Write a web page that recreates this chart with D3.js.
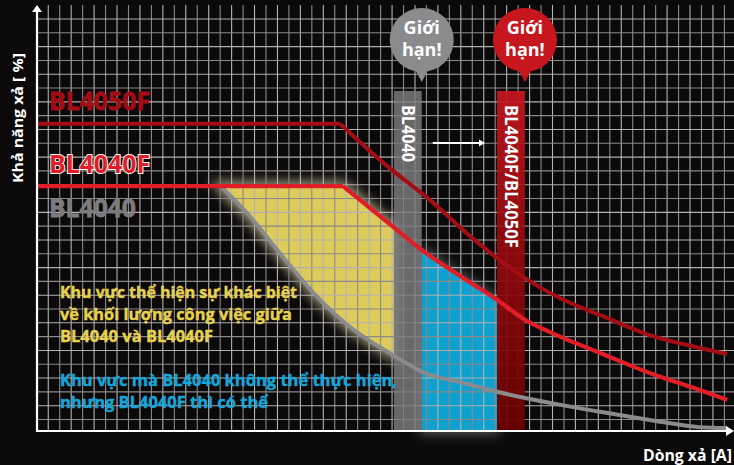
<!DOCTYPE html>
<html>
<head>
<meta charset="utf-8">
<script src="https://cdn.jsdelivr.net/npm/d3@7"></script>
<style>
  html, body { margin: 0; background: #0b0909; }
  svg { display: block; }
</style>
</head>
<body>
<svg id="chart" width="734" height="465"></svg>
<script>
// current (% of range) vs discharge capacity (%)
const bl4050fX = [0, 43.5, 50.6, 56.4, 62.1, 66.4, 70.0, 75.0, 80.8, 87.9, 95.1, 99.0];
const bl4050fY = [72.1, 72.1, 61.7, 54.2, 45.8, 40.1, 35.9, 31.2, 27.2, 22.5, 19.5, 18.1];

const bl4040fX = [0, 43.9, 51.1, 55.2, 60.7, 66.0, 70.0, 73.6, 80.8, 87.9, 95.1, 99.0];
const bl4040fY = [57.5, 57.5, 47.9, 42.5, 36.4, 30.8, 26.1, 23.2, 18.3, 13.6, 9.6, 7.3];

const bl4040X = [0, 26.3, 30.1, 35.3, 40.2, 44.9, 51.1, 55.4, 61.1, 66.0, 73.6, 80.8, 87.9, 95.1, 99.0];
const bl4040Y = [57.5, 57.5, 51.2, 40.8, 31.5, 24.4, 17.8, 13.8, 11.3, 9.2, 6.6, 4.5, 2.6, 0.9, 0.7];

// limit bands (current range)
const limitBL4040 = [51.2, 55.2];
const limitBL4040F = [66.0, 70.0];

const seriesNames = ['BL4050F', 'BL4040F', 'BL4040'];
const yellowNote = ['Khu vực thể hiện sự khác biệt', 'về khối lượng công việc giữa', 'BL4040 và BL4040F'];
const blueNote = ['Khu vực mà BL4040 không thể thực hiện,', 'nhưng BL4040F thì có thể'];
const bubbleText = ['Giới', 'hạn!'];

const svg = d3.select('#chart');
const W = 734, H = 465;
const plotLeft = 37, plotBottom = 431, plotTop = 5;

const x = d3.scaleLinear().domain([0, 100]).range([plotLeft, W]);
const y = d3.scaleLinear().domain([0, 100]).range([plotBottom, plotTop]);

const FONT = "'Liberation Sans Narrow', 'Open Sans', sans-serif";

function interp(xs, ys, v) {
    for (let i = 1; i < xs.length; i++) {
        if (v <= xs[i]) {
            const t = (v - xs[i - 1]) / (xs[i] - xs[i - 1]);
            return ys[i - 1] + t * (ys[i] - ys[i - 1]);
        }
    }
    return ys[ys.length - 1];
}
function zip(xs, ys) { return xs.map((v, i) => [v, ys[i]]); }
function segment(xs, ys, a, b) {
    return [[a, interp(xs, ys, a)]]
        .concat(zip(xs, ys).filter(d => d[0] > a && d[0] < b))
        .concat([[b, interp(xs, ys, b)]]);
}

const defs = svg.append('defs');
defs.append('filter').attr('id', 'glow')
    .attr('x', '-20%').attr('y', '-20%').attr('width', '140%').attr('height', '140%')
    .append('feGaussianBlur').attr('stdDeviation', 6);
const rg = defs.append('linearGradient').attr('id', 'redbar')
    .attr('x1', 0).attr('y1', 0).attr('x2', 0).attr('y2', 1);
rg.append('stop').attr('offset', '0%').attr('stop-color', '#c8161e');
rg.append('stop').attr('offset', '45%').attr('stop-color', '#96090f');
rg.append('stop').attr('offset', '100%').attr('stop-color', '#6a0000');

svg.append('rect').attr('width', W).attr('height', H).attr('fill', '#0b0909');

// zones
const yStart = bl4040X[1], yEnd = limitBL4040[0];
const yellowTop = segment(bl4040fX, bl4040fY, yStart, yEnd);
const yellowBot = segment(bl4040X, bl4040Y, yStart, yEnd).reverse();
const bStart = limitBL4040[1], bEnd = limitBL4040F[0];
const blueTop = segment(bl4040fX, bl4040fY, bStart, bEnd);

const poly = d3.line().x(d => x(d[0])).y(d => y(d[1]));

// soft glow behind the zones
svg.append('path').attr('d', poly(yellowTop.concat(yellowBot)) + 'Z')
    .attr('fill', '#fff6c4').attr('stroke', '#fff6c4').attr('stroke-width', 10)
    .attr('opacity', 0.6).attr('filter', 'url(#glow)');
svg.append('path').attr('d', poly(blueTop.concat([[bEnd, 0], [bStart, 0]])) + 'Z')
    .attr('fill', '#e8f6ff').attr('stroke', '#e8f6ff').attr('stroke-width', 6)
    .attr('opacity', 0.35).attr('filter', 'url(#glow)');

svg.append('path').attr('d', poly(yellowTop.concat(yellowBot)) + 'Z').attr('fill', '#ddcb5c');
svg.append('path').attr('d', poly(blueTop.concat([[bEnd, 0], [bStart, 0]])) + 'Z').attr('fill', '#0ea0cf');

// grid
const gx = d3.range(1, 61).map(i => plotLeft + i * 11.46 - 0.2);
const gy = d3.range(0, 30).map(i => 19 + i * 13.81);
const grid = svg.append('g');
grid.selectAll('line.v').data(gx).join('line')
    .attr('x1', d => d).attr('x2', d => d).attr('y1', plotTop).attr('y2', plotBottom)
    .attr('stroke', (d, i) => i % 2 ? '#8a8a8a' : '#b4b4b4').attr('stroke-width', 1.1);
grid.selectAll('line.h').data(gy).join('line')
    .attr('x1', plotLeft).attr('x2', W).attr('y1', d => d).attr('y2', d => d)
    .attr('stroke', (d, i) => i % 2 ? '#8a8a8a' : '#b0b0b0').attr('stroke-width', 1.1);

// limit bars
svg.append('rect')
    .attr('x', x(limitBL4040[0])).attr('width', x(limitBL4040[1]) - x(limitBL4040[0]))
    .attr('y', 91).attr('height', plotBottom - 91)
    .attr('fill', '#7d7d80').attr('opacity', 0.82);
svg.append('rect')
    .attr('x', x(limitBL4040F[0])).attr('width', x(limitBL4040F[1]) - x(limitBL4040F[0]))
    .attr('y', 91).attr('height', plotBottom - 91)
    .attr('fill', 'url(#redbar)').attr('opacity', 0.92);

// curves: flat part straight, falling part smooth
const flat = d3.line().x(d => x(d[0])).y(d => y(d[1]));
const smooth = d3.line().x(d => x(d[0])).y(d => y(d[1])).curve(d3.curveMonotoneX);
function curvePath(xs, ys) {
    const pts = zip(xs, ys);
    return flat(pts.slice(0, 2)) + smooth(pts.slice(1));
}
[[bl4040X, bl4040Y, '#8b8b8d', 4], [bl4050fX, bl4050fY, '#a50d15', 4], [bl4040fX, bl4040fY, '#e11d27', 4.2]]
    .forEach(([xs, ys, col, w]) => {
        svg.append('path').attr('d', curvePath(xs, ys))
            .attr('fill', 'none').attr('stroke', col).attr('stroke-width', w)
            .attr('stroke-linejoin', 'round');
    });

// axes
svg.append('line').attr('x1', plotLeft).attr('x2', plotLeft).attr('y1', plotBottom + 1).attr('y2', 10)
    .attr('stroke', '#fff').attr('stroke-width', 2.2);
svg.append('path').attr('d', `M${plotLeft - 5},12 L${plotLeft},5 L${plotLeft + 5},12 Z`).attr('fill', '#fff');
svg.append('line').attr('x1', plotLeft - 1).attr('x2', W - 6).attr('y1', plotBottom).attr('y2', plotBottom)
    .attr('stroke', '#fff').attr('stroke-width', 2.2);
svg.append('path').attr('d', `M${W - 8},${plotBottom - 5} L${W},${plotBottom} L${W - 8},${plotBottom + 5} Z`).attr('fill', '#fff');

// series labels
const labelCfg = [
    {fill: '#a20d15', y: 110, w: 101},
    {fill: '#e11d27', y: 173, w: 101, stroke: '#fff'},
    {fill: '#7c7c7e', y: 217, w: 87}
];
seriesNames.forEach((s, i) => {
    const c = labelCfg[i];
    const t = svg.append('text').attr('x', 49).attr('y', c.y).text(s)
        .attr('font-family', FONT).attr('font-weight', 'bold').attr('font-size', 25)
        .attr('textLength', c.w).attr('lengthAdjust', 'spacingAndGlyphs')
        .attr('fill', c.fill)
        .attr('stroke', c.stroke || c.fill).attr('stroke-width', c.stroke ? 1.8 : 0.8)
        .attr('paint-order', 'stroke');
});

// notes
const noteW1 = [237, 232, 153];
yellowNote.forEach((s, i) => {
    svg.append('text').attr('x', 60).attr('y', 298 + i * 22).text(s)
        .attr('font-family', FONT).attr('font-weight', 'bold').attr('font-size', 16.5)
        .attr('textLength', noteW1[i]).attr('lengthAdjust', 'spacingAndGlyphs')
        .attr('fill', '#e6d24e').attr('stroke', '#e6d24e').attr('stroke-width', 0.4);
});
const noteW2 = [337, 208];
blueNote.forEach((s, i) => {
    svg.append('text').attr('x', 60).attr('y', 386 + i * 22).text(s)
        .attr('font-family', FONT).attr('font-weight', 'bold').attr('font-size', 16.5)
        .attr('textLength', noteW2[i]).attr('lengthAdjust', 'spacingAndGlyphs')
        .attr('fill', '#16a6da').attr('stroke', '#16a6da').attr('stroke-width', 0.4);
});

// bar labels
[[limitBL4040, 'BL4040', 57], [limitBL4040F, 'BL4040F/BL4050F', 143]].forEach(([lim, s, w]) => {
    const cx = (x(lim[0]) + x(lim[1])) / 2;
    svg.append('text').attr('transform', `translate(${cx - 6},105) rotate(90)`)
        .text(s).attr('font-family', FONT).attr('font-weight', 'bold').attr('font-size', 17)
        .attr('textLength', w).attr('lengthAdjust', 'spacingAndGlyphs')
        .attr('fill', '#fff');
});

// bubbles, pointing at the right edge of each limit bar
[[limitBL4040, '#8a8b8d'], [limitBL4040F, '#c8161e']].forEach(([lim, col]) => {
    const cx = x(lim[1]), cy = 40;
    svg.append('path').attr('d', `M${cx - 8},${cy + 27} L${cx + 8},${cy + 27} L${cx},82 Z`).attr('fill', col);
    svg.append('circle').attr('cx', cx).attr('cy', cy).attr('r', 32).attr('fill', col);
    bubbleText.forEach((s, i) => {
        svg.append('text').attr('x', cx).attr('y', 34 + i * 22).text(s)
            .attr('text-anchor', 'middle').attr('font-family', "'Open Sans', sans-serif")
            .attr('font-weight', 'bold').attr('font-size', 18).attr('fill', '#fff');
    });
});

// arrow between limits
const ax0 = x(limitBL4040[1]) + 11, ax1 = x(limitBL4040F[0]) - 12;
svg.append('line').attr('x1', ax0).attr('x2', ax1 - 4).attr('y1', 143).attr('y2', 143)
    .attr('stroke', '#fff').attr('stroke-width', 1.8);
svg.append('path').attr('d', `M${ax1 - 6},139.5 L${ax1},143 L${ax1 - 6},146.5 Z`).attr('fill', '#fff');

// axis titles
svg.append('text').attr('transform', 'translate(23,118) rotate(-90)')
    .text('Khả năng xả  [ %]').attr('text-anchor', 'middle')
    .attr('font-family', "'Open Sans', sans-serif").attr('font-weight', 'bold').attr('font-size', 14.5)
    .attr('textLength', 130).attr('lengthAdjust', 'spacingAndGlyphs').attr('fill', '#fff');
svg.append('text').attr('x', 643).attr('y', 461).text('Dòng xả [A]')
    .attr('font-family', "'Open Sans', sans-serif").attr('font-weight', 'bold').attr('font-size', 16)
    .attr('textLength', 89).attr('lengthAdjust', 'spacingAndGlyphs').attr('fill', '#fff');
</script>
</body>
</html>
